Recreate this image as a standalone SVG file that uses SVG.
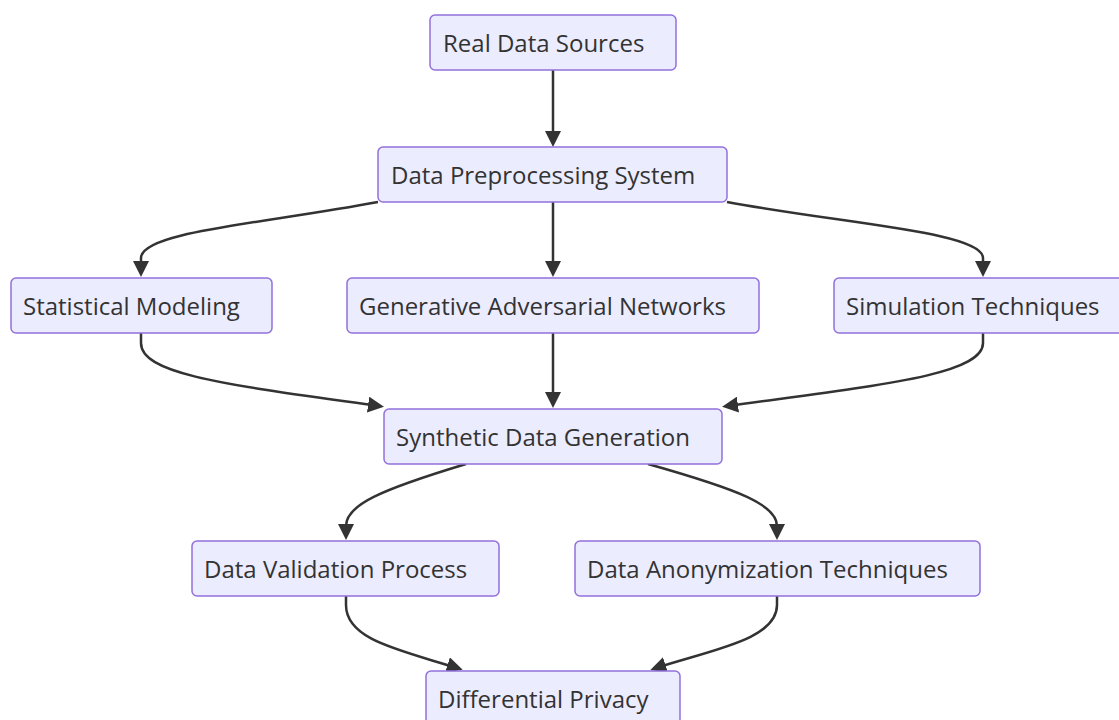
<svg xmlns="http://www.w3.org/2000/svg" width="1119" height="720" viewBox="0 0 1119 720">
<defs>
<style>
.node rect{fill:#ECECFF;stroke:#9370DB;stroke-width:1.5}
.node text{font-family:"Open Sans","Noto Sans","Liberation Sans",sans-serif;font-size:24px;fill:#333}
.edges path{fill:none;stroke:#333;stroke-width:2.5}
</style>
<marker id="arr" viewBox="0 0 16 16" refX="10" refY="8" markerWidth="16" markerHeight="16" markerUnits="userSpaceOnUse" orient="auto">
<path d="M0,0 L16,8 L0,16 z" fill="#333"/>
</marker>
</defs>
<rect width="1119" height="720" fill="#fff"/>
<g class="edges">
<path d="M553,70 L553,141" marker-end="url(#arr)"/>
<path d="M378,202 C260,224 141,232 141,258 L141,271" marker-end="url(#arr)"/>
<path d="M553,202 L553,271" marker-end="url(#arr)"/>
<path d="M727,202 C845,224 983,232 983,258 L983,271" marker-end="url(#arr)"/>
<path d="M141,333 L141,343 C141,375 230,385 378,406" marker-end="url(#arr)"/>
<path d="M553,333 L553,402" marker-end="url(#arr)"/>
<path d="M983,333 L983,343 C983,375 880,385 728,406" marker-end="url(#arr)"/>
<path d="M466,464 C380,490 346,505 346,526 L346,534" marker-end="url(#arr)"/>
<path d="M648,464 C740,490 777,505 777,526 L777,534" marker-end="url(#arr)"/>
<path d="M346,596 L346,605 C346,640 400,650 457,668" marker-end="url(#arr)"/>
<path d="M777,596 L777,605 C777,640 710,650 656,668" marker-end="url(#arr)"/>
</g>
<g id="n1" class="node"><rect x="430" y="15" width="246" height="55" rx="5"/><text x="443" y="52">Real Data Sources</text></g>
<g id="n2" class="node"><rect x="378" y="147" width="349" height="55" rx="5"/><text x="391" y="184">Data Preprocessing System</text></g>
<g id="n3" class="node"><rect x="11" y="278" width="261" height="55" rx="5"/><text x="23" y="315">Statistical Modeling</text></g>
<g id="n4" class="node"><rect x="347" y="278" width="412" height="55" rx="5"/><text x="359" y="315">Generative Adversarial Networks</text></g>
<g id="n5" class="node"><rect x="834" y="278" width="299" height="55" rx="5"/><text x="846" y="315">Simulation Techniques</text></g>
<g id="n6" class="node"><rect x="384" y="409" width="338" height="55" rx="5"/><text x="396" y="446">Synthetic Data Generation</text></g>
<g id="n7" class="node"><rect x="192" y="541" width="307" height="55" rx="5"/><text x="204" y="578">Data Validation Process</text></g>
<g id="n8" class="node"><rect x="575" y="541" width="405" height="55" rx="5"/><text x="587" y="578">Data Anonymization Techniques</text></g>
<g id="n9" class="node"><rect x="426" y="671" width="254" height="55" rx="5"/><text x="438" y="708">Differential Privacy</text></g>
</svg>
